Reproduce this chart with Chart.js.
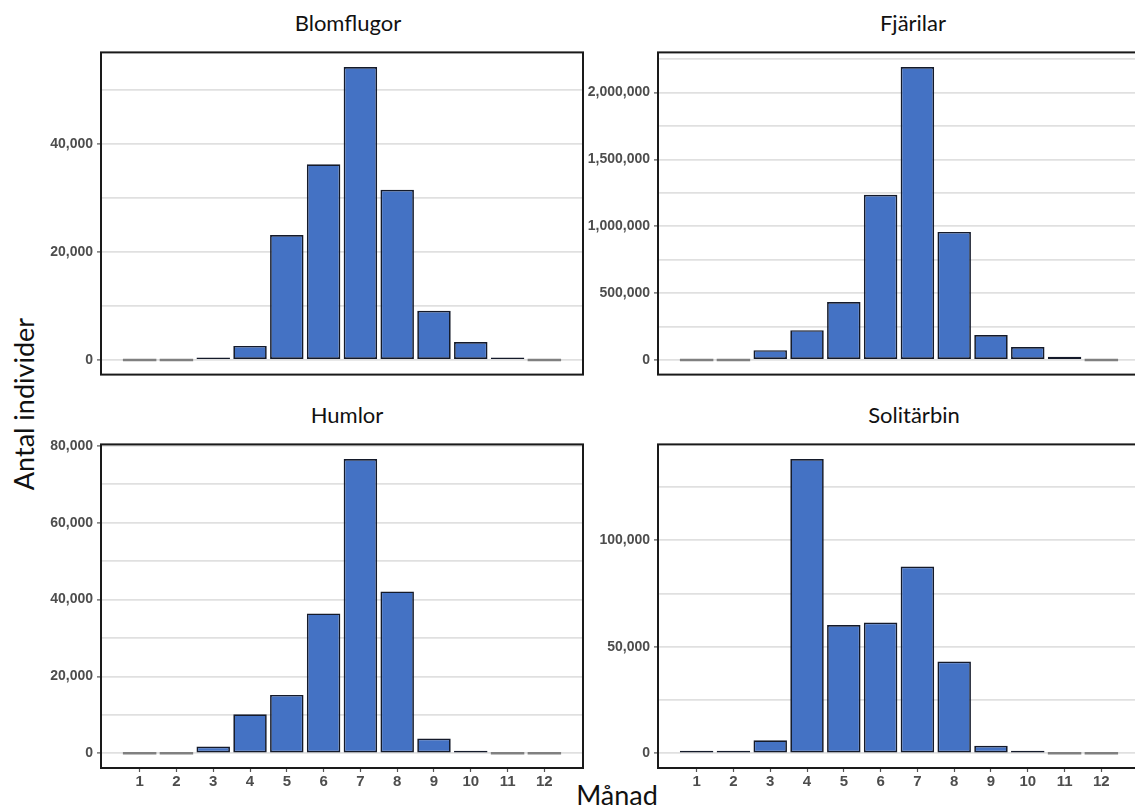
<!DOCTYPE html>
<html>
<head>
<meta charset="utf-8">
<script src="https://cdn.jsdelivr.net/npm/chart.js@4.4.1/dist/chart.umd.min.js"></script>
<style>
  html, body { margin: 0; padding: 0; width: 1135px; height: 810px; overflow: hidden; background: #fff; }
  canvas { position: absolute; }
  .title { position: absolute; width: 300px; text-align: center; font-family: Lato, sans-serif;
           font-size: 22px; line-height: 1.2; color: #111; white-space: nowrap; }
  .axis-title { position: absolute; font-family: Lato, sans-serif; font-size: 27px; line-height: 1.2;
                color: #111; white-space: nowrap; }
</style>
</head>
<body>

<div class="title" style="left:198px; top:10px;">Blomflugor</div>
<div class="title" style="left:763px; top:10px;">Fjärilar</div>
<div class="title" style="left:197px; top:402px;">Humlor</div>
<div class="title" style="left:764px; top:402px;">Solitärbin</div>
<div class="axis-title" style="left:617px; top:779px; transform:translateX(-50%);">Månad</div>
<div class="axis-title" style="left:24px; top:404px; transform:translate(-50%,-50%) rotate(-90deg);">Antal individer</div>

<canvas id="blom" width="562" height="347" style="left:31px; top:40px;"></canvas>
<canvas id="fjar" width="562" height="347" style="left:588px; top:40px;"></canvas>
<canvas id="huml" width="562" height="374" style="left:31px; top:432px;"></canvas>
<canvas id="soli" width="562" height="374" style="left:588px; top:432px;"></canvas>

<script>
const months = [1, 2, 3, 4, 5, 6, 7, 8, 9, 10, 11, 12];

const blomflugor = [0, 0, 300, 2600, 23100, 36200, 54200, 31500, 9100, 3300, 150, 0];
const fjarilar   = [0, 0, 73500, 223000, 434000, 1235000, 2191000, 958000, 186000, 96000, 24000, 0];
const humlor     = [0, 0, 1780, 10150, 15200, 36400, 76560, 42130, 3830, 400, 0, 0];
const solitarbin = [300, 300, 6150, 138100, 60200, 61400, 87640, 43050, 3500, 500, 0, 0];

// grid step / labelled step for each panel
const blomSteps = [10000, 20000];
const fjarSteps = [250000, 500000];
const humlSteps = [10000, 20000];
const soliSteps = [25000, 50000];

Chart.defaults.font.family = "'Liberation Sans', Arial, sans-serif";
Chart.defaults.color = '#4d4d4d';

// black box round the plot area
const frame = {
  id: 'frame',
  afterDraw(chart) {
    const { ctx, chartArea: a } = chart;
    ctx.save();
    ctx.strokeStyle = '#1a1a1a';
    ctx.lineWidth = 2;
    ctx.strokeRect(a.left, a.top, a.right - a.left, a.bottom - a.top);
    ctx.restore();
  }
};

function makePanel(id, values, steps, showX) {
  const top = Math.max(...values);
  new Chart(document.getElementById(id), {
    type: 'bar',
    data: {
      datasets: [{
        data: months.map((m, i) => ({ x: m, y: values[i] })),
        backgroundColor: c => (c.raw && c.raw.y === 0) ? '#808080' : '#4472c4',
        borderColor: '#141a2a',
        borderWidth: c => (c.raw && c.raw.y === 0) ? 0 : 1.7,
        borderSkipped: false,
        minBarLength: 2.5,
        barPercentage: 0.91,
        categoryPercentage: 1
      }]
    },
    options: {
      responsive: false,
      animation: false,
      layout: { padding: { top: 10, right: 10, bottom: 10, left: 0 } },
      plugins: { legend: { display: false }, tooltip: { enabled: false } },
      scales: {
        x: {
          type: 'linear',
          offset: false,
          min: -0.05,
          max: 13.05,
          afterBuildTicks: s => { s.ticks = months.map(m => ({ value: m })); },
          afterFit: s => { s.height = showX ? 28 : 0; },
          border: { display: false },
          grid: {
            display: showX,
            offset: false,
            drawOnChartArea: false,
            drawTicks: true,
            tickLength: 4,
            tickColor: '#555',
            tickWidth: 1.2
          },
          ticks: {
            display: showX,
            autoSkip: false,
            maxRotation: 0,
            padding: 1,
            font: { size: 15, weight: 'bold' }
          }
        },
        y: {
          min: -0.05 * top,
          max: 1.05 * top,
          afterBuildTicks: s => {
            const t = [];
            for (let v = 0; v <= s.max; v += steps[0]) t.push({ value: v });
            s.ticks = t;
          },
          afterFit: s => { s.width = 70; },
          border: { display: false },
          grid: {
            color: '#e0e0e0',
            lineWidth: 1.8,
            tickLength: 4,
            tickWidth: 1.2,
            tickColor: c => (c.tick && c.tick.value % steps[1] === 0) ? '#555' : 'rgba(0,0,0,0)'
          },
          ticks: {
            autoSkip: false,
            padding: 4,
            font: { size: 14, weight: 'bold' },
            callback: v => v % steps[1] === 0 ? v.toLocaleString('en-US') : ''
          }
        }
      }
    },
    plugins: [frame]
  });
}

makePanel('blom', blomflugor, blomSteps, false);
makePanel('fjar', fjarilar, fjarSteps, false);
makePanel('huml', humlor, humlSteps, true);
makePanel('soli', solitarbin, soliSteps, true);
</script>
</body>
</html>
